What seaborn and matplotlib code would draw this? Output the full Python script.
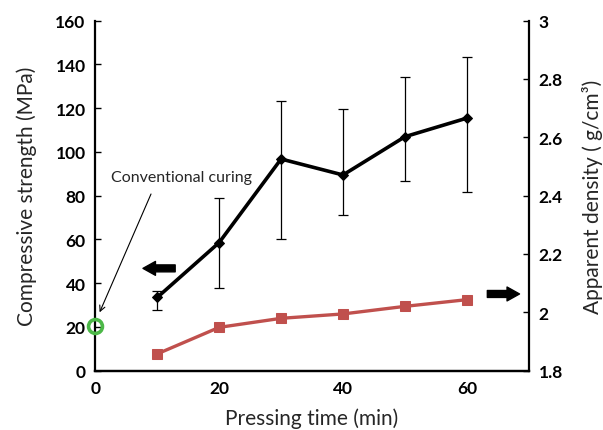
import matplotlib
matplotlib.use('Agg')
import matplotlib.pyplot as plt
import seaborn as sns

# dados
tempo = [10, 20, 30, 40, 50, 60]
resistencia = [33.4, 58.5, 96.7, 89.4, 106.9, 115.4]
resistencia_sup = [36.4, 79.1, 123.1, 119.5, 134.3, 143.2]
resistencia_inf = [27.8, 37.5, 60.0, 70.9, 86.5, 81.5]
densidade = [1.857, 1.948, 1.979, 1.994, 2.020, 2.043]

cura_tempo = [0]
cura_resistencia = [20.5]

xticks = [0, 20, 40, 60]
yticks_esq = [0, 20, 40, 60, 80, 100, 120, 140, 160]
yticks_dir = [1.8, 2.0, 2.2, 2.4, 2.6, 2.8, 3.0]
yticklabels_dir = ['1.8', '2', '2.2', '2.4', '2.6', '2.8', '3']

sns.set_style('white')
plt.rcParams['font.family'] = ['Lato', 'DejaVu Sans']

fig = plt.figure(figsize=(6.03, 4.31), dpi=100)
ax = fig.add_axes([0.158, 0.138, 0.719, 0.812])
ax2 = ax.twinx()

# resistencia (eixo esquerdo)
erro = [[r - i for r, i in zip(resistencia, resistencia_inf)],
        [s - r for r, s in zip(resistencia, resistencia_sup)]]
ax.errorbar(tempo, resistencia, yerr=erro, fmt='none', ecolor='black',
            elinewidth=0.9, capsize=3.5, capthick=0.9, zorder=2)
sns.lineplot(x=tempo, y=resistencia, ax=ax, color='black', linewidth=2.6,
             marker='D', markersize=5.5, markeredgecolor='black', zorder=3)

# cura convencional
ax.plot(cura_tempo, cura_resistencia, linestyle='none', marker='o', markersize=10,
        markerfacecolor='none', markeredgecolor='#4CB848', markeredgewidth=2.6,
        clip_on=False, zorder=5)

# densidade (eixo direito)
sns.lineplot(x=tempo, y=densidade, ax=ax2, color='#C0504D', linewidth=2.4,
             marker='s', markersize=7.5, markeredgecolor='#C0504D', zorder=3)

ax.set_xlim(0, 70)
ax.set_ylim(0, 160)
ax2.set_ylim(1.8, 3.0)
ax.set_xticks(xticks)
ax.set_yticks(yticks_esq)
ax2.set_yticks(yticks_dir)
ax2.set_yticklabels(yticklabels_dir)

for a in (ax, ax2):
    a.spines['top'].set_visible(False)
    for s in ('left', 'right', 'bottom'):
        a.spines[s].set_color('black')
        a.spines[s].set_linewidth(1.6)
    a.tick_params(direction='in', length=4, width=1, colors='black', labelsize=12.5, pad=7)
    for lab in a.get_xticklabels() + a.get_yticklabels():
        lab.set_fontweight('bold')
ax2.spines['left'].set_visible(False)
ax.spines['right'].set_visible(False)

ax.set_xlabel('Pressing time (min)', fontsize=15, labelpad=8)
ax.set_ylabel('Compressive strength (MPa)', fontsize=15, labelpad=13)
ax2.set_ylabel('Apparent density ( g/cm\u00b3)', fontsize=15, labelpad=14)

# setas
seta = dict(arrowstyle='simple,head_length=0.9,head_width=1.0,tail_width=0.5',
            color='black', shrinkA=0, shrinkB=0)
ax.annotate('', xy=(7.7, 46.7), xytext=(12.9, 46.7), arrowprops=seta)
ax.annotate('', xy=(68.5, 35), xytext=(63.3, 35), arrowprops=seta, annotation_clip=False)

ax.annotate('', xy=(0.7, 26.6), xytext=(9.0, 80.7),
            arrowprops=dict(arrowstyle='->', color='black', lw=0.8, shrinkA=0, shrinkB=0))
ax.text(2.6, 88.5, 'Conventional curing', fontsize=11.5, va='center', ha='left')

fig.savefig('out.png', dpi=100)
